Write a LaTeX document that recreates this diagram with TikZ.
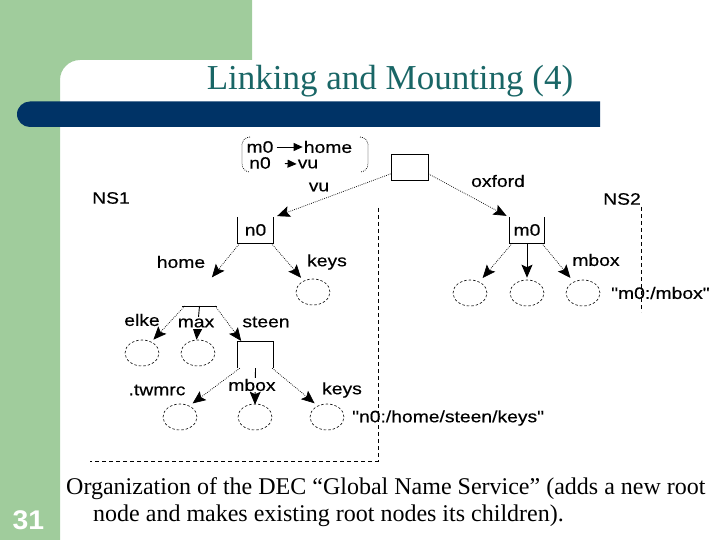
\documentclass[tikz,border=0pt]{standalone}
\usepackage{fontspec}
\setmainfont{Liberation Serif}
\newfontfamily\diagfont[FakeStretch=1.17,FakeBold=0.4]{Liberation Sans}
\newfontfamily\numfont[FakeStretch=1.05]{Liberation Sans}
\usetikzlibrary{arrows.meta,shapes.geometric}
\definecolor{slidegreen}{RGB}{160,204,156}
\definecolor{barblue}{RGB}{0,51,102}
\definecolor{titleteal}{RGB}{25,102,102}
\begin{document}
\begin{tikzpicture}[x=1pt,y=-1pt,
  lbl/.style={font=\diagfont\fontsize{16.5}{18}\selectfont, inner sep=0pt},
  dirbox/.style={lbl, minimum width=35pt, minimum height=26pt},
  rootbox/.style={draw, line width=0.9pt, minimum width=37pt, minimum height=26pt, inner sep=0pt},
  leaf/.style={ellipse, draw, dash pattern=on 2.5pt off 2pt, line width=0.6pt, minimum width=34pt, minimum height=26pt, inner sep=0pt},
  tip/.style={-{Stealth[length=13pt,width=11pt,inset=2.5pt]}},
  smalltip/.style={-{Triangle[length=9pt,width=8pt]}},
  dotarrow/.style={tip, dash pattern=on 0.8pt off 1.2pt, line width=0.7pt},
  solidarrow/.style={tip, line width=0.9pt},
  boxline/.style={line width=0.9pt},
  boundary/.style={dash pattern=on 4pt off 3pt, line width=0.9pt},
  paren/.style={dash pattern=on 0.8pt off 1.2pt, line width=0.7pt, rounded corners=8pt},
]
\useasboundingbox (0,0) rectangle (720,540);
% slide background
\fill[slidegreen] (0,0) -- (252,0) -- (252,60) -- (80,60) .. controls (69,60) and (60,69) .. (60,80) -- (60,540) -- (0,540) -- cycle;
\fill[barblue] (600,101.5) -- (30,101.5) .. controls (23,101.5) and (17,107) .. (17,114.25) .. controls (17,121.5) and (23,127) .. (30,127) -- (600,127) -- cycle;
\node[anchor=base, text=titleteal, font=\fontsize{35}{40}\selectfont, inner sep=0pt] (title) at (390,90) {Linking and Mounting (4)};
\node[anchor=base, text=white, font=\numfont\bfseries\fontsize{27}{30}\selectfont, inner sep=0pt] (num) at (28.5,529) {31};
\node[anchor=base west, font=\fontsize{24}{28}\selectfont, inner sep=0pt] (cap1) at (66,494) {Organization of the DEC “Global Name Service” (adds a new root};
\node[anchor=base west, font=\fontsize{24}{28}\selectfont, inner sep=0pt] (cap2) at (93,521) {node and makes existing root nodes its children).};

% name-space boundaries
\coordinate (b1top) at (378,208);
\coordinate (b1corner) at (378,461);
\coordinate (b1left) at (90,461);
\draw[boundary] (b1top) -- (b1corner) -- (b1left);
\coordinate (b2top) at (641,207);
\coordinate (b2bot) at (641,312);
\draw[boundary] (b2top) -- (b2bot);

% legend
\node[lbl] (lm0) at (260,147) {m0};
\node[lbl] (lhome) at (328,147) {home};
\node[lbl] (ln0) at (260,163) {n0};
\node[lbl] (lvu) at (308,164) {vu};
\draw[smalltip, line width=0.9pt] ([xshift=3pt]lm0.east) -- ([xshift=-1pt]lhome.west);
\draw[smalltip, line width=0.9pt, shorten <=14pt] (ln0.east) -- ([xshift=-1pt]lvu.west);
\coordinate (pl1) at (250,137); \coordinate (pl2) at (242,137);
\coordinate (pl3) at (242,172); \coordinate (pl4) at (250,172);
\draw[paren] (pl1) -- (pl2) -- (pl3) -- (pl4);
\coordinate (pr1) at (360,137); \coordinate (pr2) at (368,137);
\coordinate (pr3) at (368,172); \coordinate (pr4) at (360,172);
\draw[paren] (pr1) -- (pr2) -- (pr3) -- (pr4);

% tree nodes
\node[rootbox] (root) at (409.5,167) {};
\node[dirbox] (n0) at (255.5,230) {n0};
\draw[boxline] (n0.north west) -- (n0.south west) -- (n0.south east) -- (n0.north east);
\node[dirbox] (m0) at (527,230) {m0};
\draw[boxline] (m0.north west) -- (m0.south west) -- (m0.south east) -- (m0.north east);
\node[minimum width=35pt, minimum height=0pt, inner sep=0pt] (homedir) at (199.5,306) {};
\draw[boxline] (homedir.west) -- (homedir.east);
\node[dirbox] (steen) at (255.5,355) {};
\draw[boxline] (steen.south west) -- (steen.north west) -- (steen.north east) -- (steen.south east);

\node[leaf] (keys1) at (313,292) {};
\node[leaf] (mA) at (470,293) {};
\node[leaf] (mB) at (527,293) {};
\node[leaf] (mC) at (583,293) {};
\node[leaf] (elke) at (142,353) {};
\node[leaf] (max) at (198,353) {};
\node[leaf] (twmrc) at (180,417) {};
\node[leaf] (smbox) at (255,417) {};
\node[leaf] (skeys) at (327,417) {};

% connectors
\draw[dotarrow, shorten >=2pt] (root.200) -- ([xshift=2pt]n0.north east);
\draw[dotarrow, shorten >=2pt] (root.340) -- ([xshift=-1pt]m0.north west);
\draw[dotarrow, shorten >=37pt] ([xshift=2pt]n0.south west) -- ([xshift=-11pt]homedir.center);
\draw[dotarrow, shorten >=4pt] ([xshift=-2pt]n0.south east) -- (keys1.130);
\draw[dotarrow, shorten >=5pt] ([xshift=3pt]m0.south west) -- (mA.50);
\draw[solidarrow, shorten >=2pt] (m0.south) -- (mB.north);
\draw[dotarrow, shorten >=5pt] ([xshift=-3pt]m0.south east) -- (mC.130);
\draw[dotarrow, shorten >=3pt] ([xshift=3pt]homedir.west) -- (elke.50);
\draw[solidarrow] (homedir.center) -- ([xshift=-1.5pt]max.north);
\draw[dotarrow, shorten >=1pt] ([xshift=-2pt]homedir.east) -- ([xshift=4pt]steen.north west);
\draw[dotarrow, shorten >=4pt] ([xshift=2pt]steen.south west) -- (twmrc.50);
\draw[solidarrow] (steen.south) -- ([yshift=-1pt]smbox.north);
\draw[dotarrow, shorten >=4pt] ([xshift=-1pt]steen.south east) -- (skeys.130);

% labels
\node[lbl] (tvu) at (319,187) {vu};
\node[lbl] (tns1) at (111,198) {NS1};
\node[lbl] (toxford) at (498,181) {oxford};
\node[lbl] (tns2) at (622,199) {NS2};
\node[lbl] (thome) at (181,262) {home};
\node[lbl] (tkeys1) at (327,262) {keys};
\node[lbl] (tmbox1) at (596,260) {mbox};
\node[lbl, anchor=west] (tpath1) at (611,293) {"m0:/mbox"};
\node[lbl] (telke) at (142,320) {elke};
\node[lbl, fill=white, inner sep=1pt] (tmax) at (196,323) {max};
\node[lbl] (tsteen) at (266,322) {steen};
\node[lbl] (ttwmrc) at (157,390) {.twmrc};
\node[lbl, fill=white, inner sep=1pt] (tmbox2) at (252,385) {mbox};
\node[lbl] (tkeys2) at (342,390) {keys};
\node[lbl, anchor=west] (tpath2) at (352,418) {"n0:/home/steen/keys"};
\end{tikzpicture}
\end{document}
